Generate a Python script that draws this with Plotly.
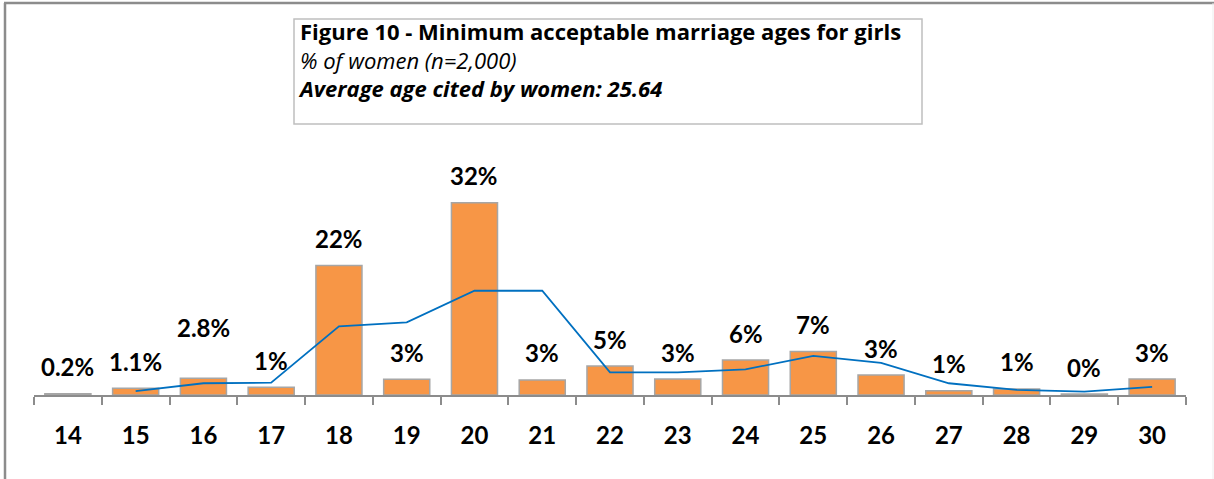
import plotly.graph_objects as go

ages = ["14", "15", "16", "17", "18", "19", "20", "21", "22", "23", "24", "25", "26", "27", "28", "29", "30"]
pct_women = [0.2, 1.1, 2.8, 1.3, 21.5, 2.6, 31.9, 2.5, 4.8, 2.65, 5.8, 7.2, 3.3, 0.7, 1.0, 0.15, 2.65]
pct_labels = ["0.2%", "1.1%", "2.8%", "1%", "22%", "3%", "32%", "3%", "5%", "3%", "6%", "7%", "3%", "1%", "1%", "0%", "3%"]
trend_ages = ["15", "16", "17", "18", "19", "20", "21", "22", "23", "24", "25", "26", "27", "28", "29", "30"]
trend_vals = [0.65, 1.95, 2.05, 11.4, 12.05, 17.3, 17.3, 3.76, 3.76, 4.26, 6.5, 5.35, 1.95, 0.85, 0.55, 1.35]

title_lines = [
    "<b>Figure 10 - Minimum acceptable marriage ages for girls</b>",
    "<i>% of women (n=2,000)</i>",
    "<b><i>Average age cited by women: 25.64</i></b>",
]

FONT = "Lato, 'Open Sans', sans-serif"
TFONT = "'Open Sans', Lato, sans-serif"

fig = go.Figure()
fig.add_trace(go.Bar(
    x=ages, y=pct_women,
    marker=dict(color="#F79646", line=dict(color="#A6A6A6", width=1.5)),
    width=0.68, showlegend=False, hoverinfo="skip",
))
fig.add_trace(go.Scatter(
    x=trend_ages, y=trend_vals, mode="lines",
    line=dict(color="#0070C0", width=1.8), showlegend=False, hoverinfo="skip",
))

for i, (a, v, t) in enumerate(zip(ages, pct_women, pct_labels)):
    fig.add_annotation(
        x=i, y=v, text="<b>%s</b>" % t, showarrow=False,
        yanchor="middle", yshift=51 if a == "16" else 27,
        font=dict(family=FONT, size=24, color="#000000"),
    )

L, R, T, B = 34, 28, 154, 84
W, H = 1214, 479
pw = W - L - R
ph = H - T - B

def px_x(p):
    return (p - L) / pw

def px_y(p):
    return (H - B - p) / ph

# outer frame
fig.add_shape(type="line", xref="paper", yref="paper",
              x0=px_x(4), x1=px_x(1214), y0=px_y(3), y1=px_y(3),
              line=dict(color="#8C8C8C", width=2.5))
fig.add_shape(type="line", xref="paper", yref="paper",
              x0=px_x(5), x1=px_x(5), y0=px_y(3), y1=px_y(490),
              line=dict(color="#8C8C8C", width=2.5))
fig.add_shape(type="line", xref="paper", yref="paper",
              x0=px_x(1213), x1=px_x(1213), y0=px_y(3), y1=px_y(490),
              line=dict(color="#EDEDED", width=1))

# title box
fig.add_shape(type="rect", xref="paper", yref="paper",
              x0=px_x(294), x1=px_x(922), y0=px_y(19), y1=px_y(124),
              line=dict(color="#BFBFBF", width=1.5), fillcolor="white")
fig.add_annotation(
    xref="paper", yref="paper", x=px_x(296), y=px_y(59),
    xanchor="left", yanchor="middle", align="left", showarrow=False,
    text="<br>".join(title_lines),
    font=dict(family=TFONT, size=22, color="#000000"),
)

fig.update_layout(
    width=W, height=H,
    margin=dict(l=L, r=R, t=T, b=B, pad=0),
    paper_bgcolor="white", plot_bgcolor="white",
    xaxis=dict(
        type="category", categoryorder="array", categoryarray=ages,
        range=[-0.5, len(ages) - 0.5],
        tickson="boundaries", ticks="outside", ticklen=8, tickwidth=2,
        tickcolor="#8C8C8C", showline=True, linecolor="#8C8C8C", linewidth=2,
        showgrid=False, zeroline=False,
        tickfont=dict(family=FONT, size=24, color="#000000"),
        ticklabelstandoff=18,
        tickprefix="<b>", ticksuffix="</b>",
    ),
    yaxis=dict(range=[0, 40], visible=False, showgrid=False, zeroline=False),
)

fig.write_html(
    "out.html",
    config={"displayModeBar": False},
    post_script="document.body.style.margin='0';document.body.style.overflow='hidden';",
)
